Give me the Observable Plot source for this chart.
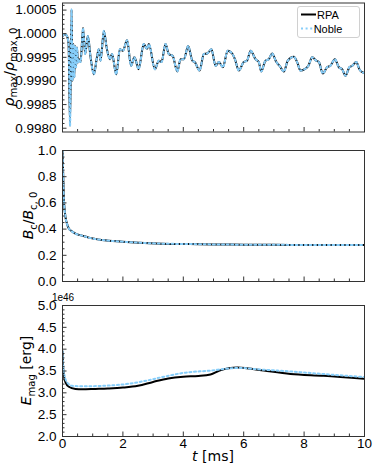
<!DOCTYPE html>
<html><head><meta charset="utf-8">
<script src="https://cdn.jsdelivr.net/npm/d3@7"></script>
<script src="https://cdn.jsdelivr.net/npm/@observablehq/plot@0.6"></script>
<style>
body{margin:0;background:#fff;}
#wrap{position:relative;width:374px;height:468px;font-family:"Liberation Sans";}
#wrap svg{position:absolute;left:0;}
</style></head><body><div id="wrap"></div>
<script>
// ---- data ----
const rhoT = [0.00,0.07,0.14,0.20,0.25,0.30,0.33,0.36,0.39,0.42,0.45,0.48,0.51,0.55,0.60,0.68,0.75,0.84,0.93,1.04,1.13,1.20,1.26,1.37,1.46,1.57,1.64,1.78,1.90,2.00,2.14,2.27,2.38,2.42,2.52,2.69,2.80,2.86,3.06,3.19,3.28,3.41,3.52,3.65,3.80,3.91,4.02,4.16,4.30,4.38,4.54,4.68,4.79,4.93,5.07,5.18,5.31,5.47,5.63,5.71,5.84,6.00,6.11,6.23,6.39,6.50,6.58,6.72,6.83,6.94,7.08,7.19,7.33,7.46,7.66,7.77,7.88,8.02,8.14,8.27,8.40,8.49,8.62,8.76,8.87,9.02,9.15,9.26,9.37,9.50,9.59,9.73,9.83,9.94,10.0];
const rhoRPA = [0.99995,0.99999,0.99996,0.99980,0.99805,1.00051,0.99900,0.99978,0.99908,0.99974,0.99929,0.99971,0.99939,0.99946,0.99940,1.00012,0.99957,0.99995,0.99950,0.99914,0.99946,0.99967,0.99943,1.00006,0.99971,0.99946,0.99957,0.99914,0.99967,0.99964,0.99986,0.99932,0.99950,0.99945,0.99925,0.99978,0.99968,0.99978,0.99925,0.99943,0.99940,0.99978,0.99957,0.99953,0.99920,0.99946,0.99946,0.99974,0.99943,0.99940,0.99922,0.99957,0.99958,0.99967,0.99932,0.99940,0.99929,0.99964,0.99957,0.99946,0.99922,0.99940,0.99943,0.99964,0.99946,0.99940,0.99920,0.99943,0.99946,0.99958,0.99940,0.99932,0.99920,0.99943,0.99951,0.99940,0.99922,0.99925,0.99932,0.99950,0.99943,0.99940,0.99916,0.99929,0.99932,0.99946,0.99929,0.99925,0.99911,0.99929,0.99932,0.99940,0.99925,0.99918,0.99917];
const rhoNoble = rhoRPA; // curves coincide in the figure

const bT = [0,0.02,0.04,0.07,0.1,0.15,0.21,0.3,0.43,0.65,0.87,1.31,1.98,2.53,3.3,4.2,5,6,7,8,9,10];
const bRPA = [1.0,0.84,0.66,0.55,0.49,0.44,0.405,0.385,0.365,0.35,0.335,0.317,0.304,0.296,0.289,0.286,0.283,0.281,0.28,0.279,0.278,0.278];
const bNoble = bRPA;

const eRPAT = [0,0.02,0.04,0.1,0.21,0.43,0.65,1.09,1.5,2.0,2.5,3.0,3.5,4.0,4.5,4.9,5.2,5.5,5.8,6.1,6.67,7.55,8.65,10];
const eRPA = [3.95,3.6,3.43,3.24,3.14,3.09,3.08,3.09,3.10,3.12,3.16,3.25,3.33,3.37,3.385,3.42,3.51,3.565,3.58,3.565,3.51,3.43,3.39,3.32];
const eNobleT = [0,0.02,0.04,0.15,0.32,0.65,1.31,1.98,2.64,3.3,4.04,4.9,5.56,5.9,6.45,7.55,8.65,10];
const eNoble = [3.95,3.65,3.51,3.24,3.16,3.15,3.16,3.19,3.26,3.36,3.46,3.51,3.56,3.57,3.54,3.49,3.43,3.36];

const xTicks = [0,2,4,6,8,10];
const xTickLabels = ["0","2","4","6","8","10"];
const xMinor = [0.5,1,1.5,2.5,3,3.5,4.5,5,5.5,6.5,7,7.5,8.5,9,9.5];
const rhoTicks = [0.9980,0.9985,0.9990,0.9995,1.0000,1.0005];
const rhoTickLabels = ["0.9980","0.9985","0.9990","0.9995","1.0000","1.0005"];
const bTicks = [0,0.2,0.4,0.6,0.8,1.0];
const bTickLabels = ["0.0","0.2","0.4","0.6","0.8","1.0"];
const eTicks = [2.0,2.5,3.0,3.5,4.0,4.5,5.0];
const eTickLabels = ["2.0","2.5","3.0","3.5","4.0","4.5","5.0"];
const seriesNames = ["RPA","Noble"];
const colors = {RPA:"#000000", Noble:"#87cefa"};

function minorOf(lo, hi, step, majors){
  const out=[];
  for(let k=0; lo+k*step<=hi+1e-12; k++){
    const v=+(lo+k*step).toFixed(6);
    if(!majors.some(m=>Math.abs(m-v)<step/10)) out.push(v);
  }
  return out;
}

const W=374, ML=62, MR=10, FW=W-ML-MR;
const FONT="Liberation Sans", MATH="DejaVu Sans";
const wrap=document.getElementById("wrap");

function panel({top,height,mt,mb,yDomain,yTicks,yLabels,yMinor,rpa,noble,xAxis}){
  const fh=height-mt-mb;
  const marks=[
    Plot.line(rpa,{x:"t",y:"v",stroke:colors.RPA,strokeWidth:2,curve:"monotone-x",clip:true}),
    Plot.line(noble,{x:"t",y:"v",stroke:colors.Noble,strokeWidth:2,strokeDasharray:"2,2.6",curve:"monotone-x",clip:true}),
    Plot.frame({stroke:"#333",strokeWidth:1}),
    Plot.tickX(xTicks,{x:d=>d,stroke:"#333",insetTop:fh-4.5}),
    Plot.tickX(xMinor,{x:d=>d,stroke:"#333",insetTop:fh-2.5}),
    Plot.tickY(yTicks,{y:d=>d,stroke:"#333",insetRight:FW-4.5}),
    Plot.tickY(yMinor,{y:d=>d,stroke:"#333",insetRight:FW-2.5}),
    Plot.axisY(yTicks,{tickSize:0,tickPadding:6,label:null,fontSize:13.5,tickFormat:d=>yLabels[yTicks.indexOf(d)]})
  ];
  if(xAxis) marks.push(Plot.axisX(xTicks,{tickSize:0,tickPadding:2,label:null,fontSize:13.5,tickFormat:d=>xTickLabels[xTicks.indexOf(d)]}));
  const svg=Plot.plot({
    width:W,height,marginLeft:ML,marginRight:MR,marginTop:mt,marginBottom:mb,
    style:{fontFamily:FONT,fontSize:"13.5px",background:"transparent",color:"#000",overflow:"visible"},
    x:{domain:[0,10],axis:xAxis?undefined:null},
    y:{domain:yDomain},
    marks
  });
  svg.style.top=top+"px";
  wrap.appendChild(svg);
  return d3.select(svg);
}

function mathLabel(sel,x,y,parts,rot){
  const t=sel.append("text").attr("transform",`translate(${x},${y})`+(rot?" rotate(-90)":""))
    .attr("text-anchor","middle").attr("font-size",14).attr("fill","#000").attr("font-family",MATH);
  let inSub=false;
  parts.forEach(p=>{
    const ts=t.append("tspan").text(p.t);
    if(p.i) ts.attr("font-style","italic");
    if(p.s){ ts.attr("font-size",10); if(!inSub){ts.attr("dy",3.5);inSub=true;} }
    else if(inSub){ ts.attr("dy",-3.5); inSub=false; }
  });
}

const toRows=(ts,vs)=>ts.map((t,i)=>({t,v:vs[i]}));

// panel 1
const p1=panel({top:0,height:140,mt:2.5,mb:8.5,yDomain:[0.99792,1.00065],yTicks:rhoTicks,yLabels:rhoTickLabels,
  yMinor:minorOf(0.9980,1.0006,0.0001,rhoTicks),rpa:toRows(rhoT,rhoRPA),noble:toRows(rhoT,rhoNoble),xAxis:false});
mathLabel(p1,13.5,67,[{t:"ρ",i:1},{t:"max",s:1},{t:"/"},{t:"ρ",i:1},{t:"max, 0",s:1}],true);
// legend
const lg=p1.append("g");
lg.append("rect").attr("x",297.5).attr("y",6.5).attr("width",62).attr("height",31).attr("rx",2.5)
  .attr("fill","white").attr("fill-opacity",0.8).attr("stroke","#d0d0d0");
seriesNames.forEach((n,i)=>{
  const yy=14.5+i*14;
  lg.append("line").attr("x1",301).attr("x2",316).attr("y1",yy).attr("y2",yy)
    .attr("stroke",colors[n]).attr("stroke-width",2).attr("stroke-dasharray",n==="Noble"?"2,2.6":null);
  lg.append("text").attr("x",328).attr("y",yy+4).attr("font-size",11).attr("font-family",FONT).attr("fill","#000").text(n);
});

// panel 2
const p2=panel({top:140,height:150,mt:10,mb:9,yDomain:[0,1],yTicks:bTicks,yLabels:bTickLabels,
  yMinor:minorOf(0,1,0.05,bTicks),rpa:toRows(bT,bRPA),noble:toRows(bT,bNoble),xAxis:false});
mathLabel(p2,33,75.5,[{t:"B",i:1},{t:"c",s:1},{t:"/"},{t:"B",i:1},{t:"c, 0",s:1}],true);

// panel 3
const p3=panel({top:290,height:178,mt:15,mb:32,yDomain:[2,5],yTicks:eTicks,yLabels:eTickLabels,
  yMinor:minorOf(2,5,0.1,eTicks),rpa:toRows(eRPAT,eRPA),noble:toRows(eNobleT,eNoble),xAxis:true});
mathLabel(p3,31,80.5,[{t:"E",i:1},{t:"mag",s:1},{t:" [erg]"}],true);
mathLabel(p3,213,171,[{t:"t",i:1},{t:" [ms]"}],false);
p3.append("text").attr("x",63).attr("y",10.5).attr("font-size",10).attr("font-family",FONT).attr("fill","#000").text("1e46");
</script></body></html>
